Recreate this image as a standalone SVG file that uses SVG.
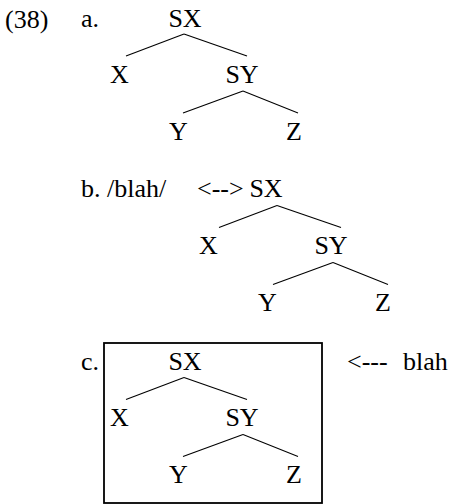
<svg xmlns="http://www.w3.org/2000/svg" width="449" height="504" viewBox="0 0 449 504">
<style>
text{font-family:"Liberation Serif","Times New Roman",serif;font-size:26px;fill:#000}
.m{text-anchor:middle}
line{stroke:#000;stroke-width:1.1}
.box{fill:none;stroke:#000;stroke-width:1.8}
</style>
<rect width="449" height="504" fill="#fff"/>
<g id="labels">
<text x="5" y="27.5">(38)</text>
<text x="81" y="27">a.</text>
<text x="81" y="197">b. /blah/</text>
<text x="197" y="197">&lt;--&gt;</text>
<text x="81" y="369.5">c.</text>
<text x="347" y="369.5">&lt;---</text>
<text x="403" y="369.5">blah</text>
</g>
<g id="treeA">
<g id="a-SX"><text class="m" x="185" y="26.5">SX</text></g>
<g id="a-X"><text class="m" x="119.5" y="82.5">X</text></g>
<g id="a-SY"><text class="m" x="242" y="82.5">SY</text></g>
<g id="a-Y"><text class="m" x="178.5" y="140">Y</text></g>
<g id="a-Z"><text class="m" x="294" y="140">Z</text></g>
</g>
<g id="treeB" transform="translate(89,171)">
<g id="b-SX"><text class="m" x="177" y="26">SX</text></g>
<g id="b-X"><text class="m" x="119.5" y="82.5">X</text></g>
<g id="b-SY"><text class="m" x="242" y="82.5">SY</text></g>
<g id="b-Y"><text class="m" x="178.5" y="140">Y</text></g>
<g id="b-Z"><text class="m" x="294" y="140">Z</text></g>
</g>
<g id="treeC" transform="translate(0,343)">
<g id="c-SX"><text class="m" x="185" y="26.5">SX</text></g>
<g id="c-X"><text class="m" x="119.5" y="82.5">X</text></g>
<g id="c-SY"><text class="m" x="242" y="82.5">SY</text></g>
<g id="c-Y"><text class="m" x="178.5" y="140">Y</text></g>
<g id="c-Z"><text class="m" x="294" y="140">Z</text></g>
</g>
<g id="box-c"><rect class="box" x="104" y="343" width="218" height="160"/></g>
<g id="connectors">
<g>
<line x1="184" y1="34" x2="126" y2="56"/><line x1="184" y1="34" x2="247" y2="56"/>
<line x1="243" y1="91" x2="183" y2="113"/><line x1="243" y1="91" x2="298" y2="113"/>
</g>
<g transform="translate(93,171.5)">
<line x1="184" y1="34" x2="126" y2="56"/><line x1="184" y1="34" x2="248" y2="56"/>
</g>
<g transform="translate(90,171.5)">
<line x1="243" y1="91" x2="183" y2="113"/><line x1="243" y1="91" x2="298" y2="113"/>
</g>
<g transform="translate(0,343.5)">
<line x1="184" y1="34" x2="126" y2="56"/><line x1="184" y1="34" x2="247" y2="56"/>
<line x1="243" y1="91" x2="183" y2="113"/><line x1="243" y1="91" x2="298" y2="113"/>
</g>
</g>
</svg>
